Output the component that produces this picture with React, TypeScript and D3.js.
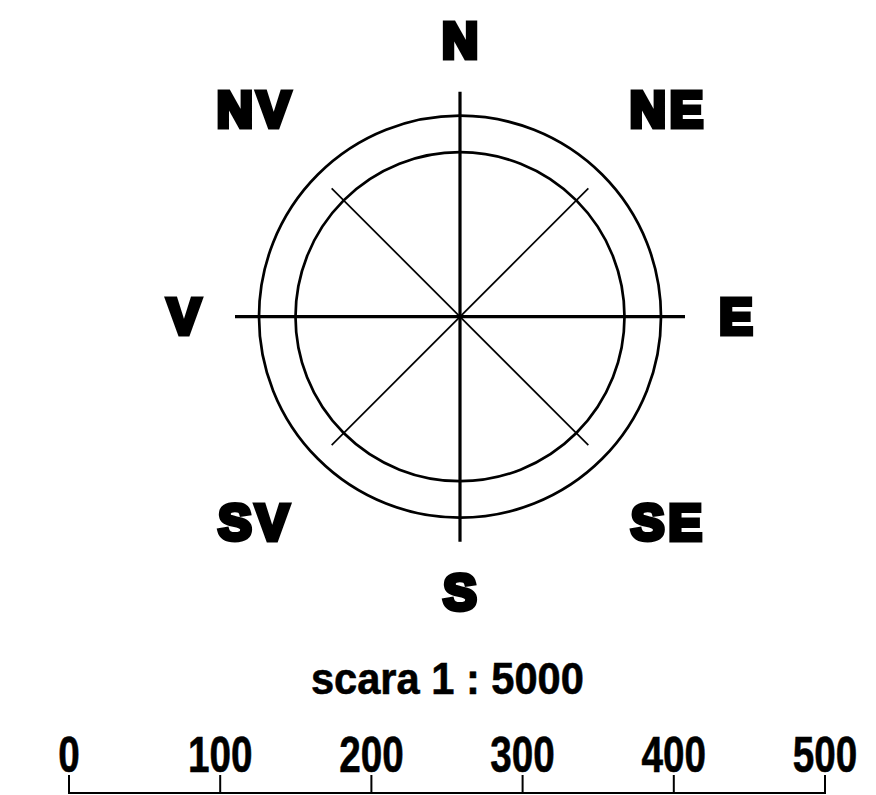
import React, { useEffect, useRef } from 'react';
import * as d3 from 'd3';

// compass directions (Romanian: V = vest), angle in degrees clockwise from north
const directions = ['N', 'NE', 'E', 'SE', 'S', 'SV', 'V', 'NV'];
const angles = [0, 45, 90, 135, 180, 225, 270, 315];

// scale bar
const scaleTitle = 'scara 1 : 5000';
const scaleTicks = [0, 100, 200, 300, 400, 500];

const W = 876;
const H = 795;

export default function App() {
    const svgRef = useRef<SVGSVGElement>(null);

    useEffect(() => {
        if (!svgRef.current) return;
        const svg = d3.select(svgRef.current);
        svg.selectAll('*').remove();

        const cx = 460;
        const cy = 316.7;
        const g = svg.append('g').attr('transform', `translate(${cx},${cy})`);

        // radii for the rose
        const rOuter = 201;
        const rInner = 164.5;
        const rCardinal = 225;
        const rDiagonal = 181.5;
        const rLabelCard = 276;
        const rLabelDiag = 292;

        g.append('circle').attr('r', rOuter)
            .attr('fill', 'none').attr('stroke', '#000').attr('stroke-width', 2.7);
        g.append('circle').attr('r', rInner)
            .attr('fill', 'none').attr('stroke', '#000').attr('stroke-width', 2.7);

        const isCardinal = (a: number) => a % 90 === 0;

        // direction lines, through the centre
        g.selectAll('line.dir')
            .data(angles.filter(a => a < 180))
            .join('line')
            .attr('class', 'dir')
            .each(function (a) {
                const r = isCardinal(a) ? rCardinal : rDiagonal;
                const [x1, y1] = d3.pointRadial((a * Math.PI) / 180, r);
                d3.select(this)
                    .attr('x1', x1).attr('y1', y1)
                    .attr('x2', -x1).attr('y2', -y1);
            })
            .attr('stroke', '#000')
            .attr('stroke-width', a => (isCardinal(a) ? 3.2 : 1.7));

        // labels - heavy face imitated with a thick outline
        const labels = directions.map((d, i) => ({ d, a: angles[i] }));
        g.selectAll('text.lbl')
            .data(labels)
            .join('text')
            .attr('class', 'lbl')
            .each(function ({ a, d }) {
                const r = isCardinal(a) ? rLabelCard : rLabelDiag;
                const [x, y] = d3.pointRadial((a * Math.PI) / 180, r);
                // letter-spacing adds a trailing gap, push back by half of it
                d3.select(this).attr('x', x + (d.length > 1 ? 2 : 0)).attr('y', y);
            })
            .attr('text-anchor', 'middle')
            .attr('dominant-baseline', 'central')
            .attr('font-family', '"Liberation Sans", Arial, sans-serif')
            .attr('font-weight', 900)
            .attr('font-size', 50)
            .attr('letter-spacing', d => (d.d.length > 1 ? 4 : 0))
            .attr('fill', '#000')
            .attr('stroke', '#000')
            .attr('stroke-width', 5)
            .attr('stroke-linejoin', 'miter')
            .text(d => d.d);

        // scale title
        svg.append('text')
            .attr('x', 447.4)
            .attr('y', 694)
            .attr('text-anchor', 'middle')
            .attr('font-family', '"Liberation Sans Narrow", "Liberation Sans", Arial, sans-serif')
            .attr('font-weight', 700)
            .attr('font-size', 45)
            .attr('textLength', 273)
            .attr('lengthAdjust', 'spacingAndGlyphs')
            .attr('stroke', '#000')
            .attr('stroke-width', 0.6)
            .text(scaleTitle);

        // scale bar
        const x = d3.scaleLinear().domain([0, 500]).range([69, 825]);
        const barY = 793;
        svg.append('line')
            .attr('x1', x(0)).attr('x2', x(500))
            .attr('y1', barY).attr('y2', barY)
            .attr('stroke', '#000').attr('stroke-width', 2);

        svg.selectAll('line.tick')
            .data(scaleTicks)
            .join('line')
            .attr('class', 'tick')
            .attr('x1', d => x(d)).attr('x2', d => x(d))
            .attr('y1', 775).attr('y2', barY + 1)
            .attr('stroke', '#000').attr('stroke-width', 2);

        svg.selectAll('text.tl')
            .data(scaleTicks)
            .join('text')
            .attr('class', 'tl')
            .attr('x', d => x(d))
            .attr('y', 772)
            .attr('text-anchor', 'middle')
            .attr('font-family', '"Liberation Sans Narrow", "Liberation Sans", Arial, sans-serif')
            .attr('font-weight', 700)
            .attr('font-size', 50)
            .attr('textLength', d => String(d).length * 21.5)
            .attr('lengthAdjust', 'spacingAndGlyphs')
            .attr('stroke', '#000')
            .attr('stroke-width', 0.6)
            .text(d => String(d));
    }, []);

    return (
        <svg
            ref={svgRef}
            width={W}
            height={H}
            viewBox={`0 0 ${W} ${H}`}
            style={{ position: 'absolute', left: 0, top: 0, background: '#fff' }}
        />
    );
}
